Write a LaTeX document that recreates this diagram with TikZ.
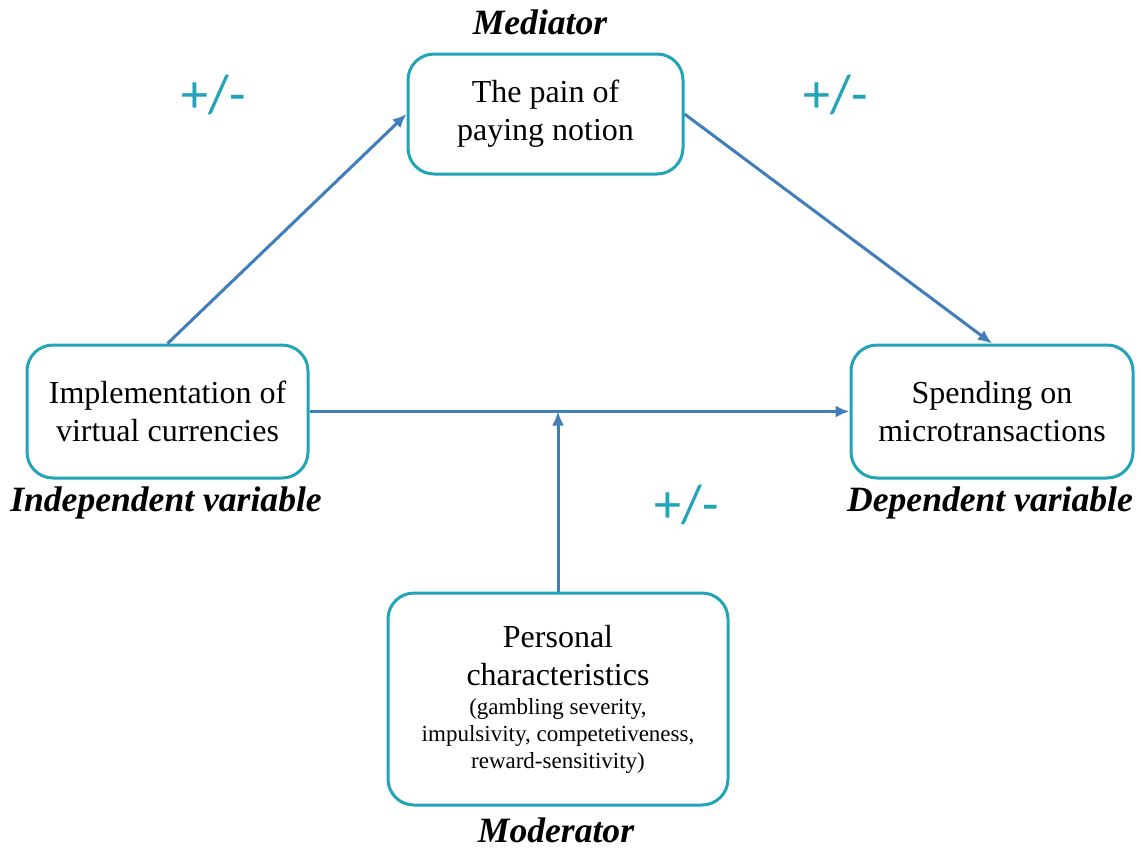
\documentclass[tikz,border=0pt]{standalone}
\usepackage{fontspec}
\setmainfont{Liberation Serif}
\newfontfamily\signfont{Carlito}
\usetikzlibrary{arrows.meta}
\definecolor{boxteal}{HTML}{22A4B8}
\definecolor{arrowblue}{HTML}{3F7DBB}
\tikzset{
	varbox/.style={draw=boxteal, line width=1.5pt, rounded corners=13pt, fill=white,
		align=center, inner sep=0pt, font=\fontsize{16}{19}\selectfont},
	rolelabel/.style={font=\fontsize{17.8}{20}\selectfont\bfseries\itshape},
	signlabel/.style={text=boxteal, font=\fontsize{27}{30}\signfont},
	flow/.style={draw=arrowblue, line width=1.5pt, -{Latex[length=7pt,width=6pt]}}
}
\newcommand{\smalltext}{\fontsize{11.5}{14}\selectfont}

\begin{document}
\begin{tikzpicture}[x=0.5pt, y=-0.5pt]
		%%%%% START %%%%%
		\useasboundingbox (0, 0) rectangle (1141, 848);
		
		% boxes
		\node[varbox, minimum width=137.5pt, minimum height=60pt] (pain) at (545.5, 114) {The pain of\\paying notion};
		\node[varbox, minimum width=140.5pt, minimum height=66.5pt] (impl) at (167.5, 411.5) {Implementation of\\virtual currencies};
		\node[varbox, minimum width=141pt, minimum height=66.5pt] (spend) at (992, 411.5) {Spending on\\microtransactions};
		\node[varbox, minimum width=170pt, minimum height=106pt] (pers) at (558, 699)
			{Personal\\characteristics\\[-4.5pt]{\smalltext (gambling severity,}\\[-5.5pt]{\smalltext impulsivity, competetiveness,}\\[-5.5pt]{\smalltext reward-sensitivity)}};
		
		% roles
		\node[rolelabel] (medlbl) at (540, 22) {Mediator};
		\node[rolelabel] (indlbl) at (166, 503) {Independent variable};
		\node[rolelabel] (deplbl) at (990, 503) {Dependent variable};
		\node[rolelabel] (modlbl) at (556, 830) {Moderator};
		
		% signs
		\node[signlabel] (signa) at (214, 95) {+/-};
		\node[signlabel] (signb) at (836, 95) {+/-};
		\node[signlabel] (signc) at (687, 505) {+/-};
		
		% arrows
		\coordinate (meet) at (pers.north |- impl.east);
		\draw[flow] (impl.north) -- (pain.west);
		\draw[flow] (pain.east) -- (spend.north);
		\draw[flow] (impl.east) -- (spend.west);
		\draw[flow] (pers.north) -- (meet);
		
		%%%%% END %%%%%
	\end{tikzpicture}
\end{document}
